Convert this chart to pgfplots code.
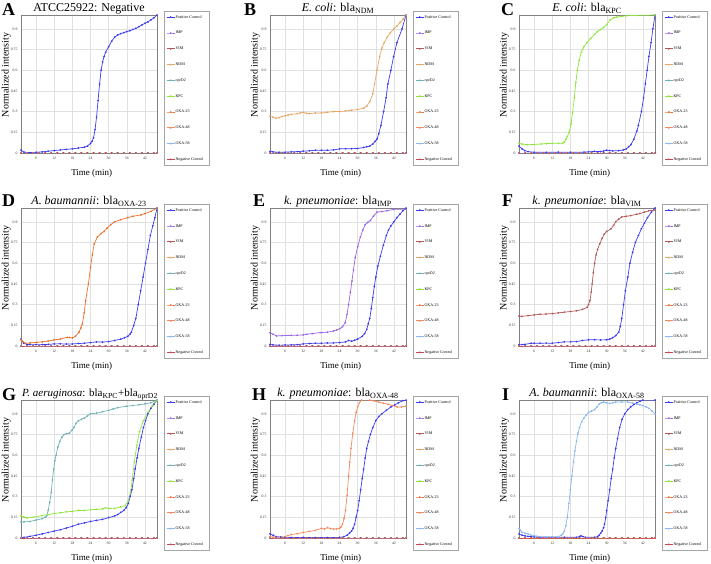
\documentclass[border=0pt]{standalone}
\usepackage{pgfplots}
\pgfplotsset{compat=1.18}
\usepackage{pgfplotstable}
\usepackage{fontspec}
\setmainfont{Liberation Serif}
\definecolor{cpos}{HTML}{3C3CF0}
\definecolor{cimp}{HTML}{9966E6}
\definecolor{cvim}{HTML}{B35959}
\definecolor{cndm}{HTML}{E6A866}
\definecolor{copr}{HTML}{6FB3B3}
\definecolor{ckpc}{HTML}{8FE53C}
\definecolor{coxa}{HTML}{E8722E}
\definecolor{coxb}{HTML}{F28A5E}
\definecolor{coxc}{HTML}{8CB8F0}
\definecolor{cneg}{HTML}{C04858}

\pgfplotstableread{
x y
1 0
3 0
5 0
7 0
9 0
11 0
13 0
15 0
17 0
19 0
21 0
23 0
25 0
27 0
29 0
31 0
33 0
35 0
37 0
39 0
41 0
43 0
45 0
46 0
}\flat

\newcommand\LE[1]{\makebox[31pt][l]{#1}}

\pgfplotsset{
 every axis plot/.append style={line width=0.7pt, mark=*, mark size=0.5pt},
 sPos/.style={color=cpos}, sImp/.style={color=cimp}, sVim/.style={color=cvim},
 sNdm/.style={color=cndm}, sOpr/.style={color=copr}, sKpc/.style={color=ckpc},
 sOxa/.style={color=coxa}, sOxb/.style={color=coxb}, sOxc/.style={color=coxc},
 sNeg/.style={color=cneg},
 pan/.style={
  width=136pt, height=138pt, scale only axis, anchor=north west,
  xmin=1, xmax=46, ymin=0, ymax=1,
  xtick={6,12,18,24,30,36,42},
  xticklabels={6,12,18,24,30,36,42},
  ytick={0,0.15,0.3,0.45,0.6,0.75,0.9},
  yticklabels={0,0.15,0.3,0.45,0.6,0.75,0.9},
  /pgf/number format/assume math mode=true,
  tick label style={font=\fontsize{3.8}{4}\selectfont, text=black!80},
  grid=major, major grid style={black!12, line width=0.3pt},
  axis line style={black!50, line width=0.6pt},
  major tick length=0pt,
  xlabel={Time (min)}, ylabel={Normalized intensity},
  every axis x label/.style={at={(axis description cs:0.52,-0.163)}, anchor=base, font=\fontsize{9}{10}\selectfont},
  every axis y label/.style={at={(axis description cs:-0.0735,0.565)}, rotate=90, anchor=south, inner sep=0pt, font=\fontsize{10}{11}\selectfont},
  every axis title/.style={at={(axis description cs:0.5,1.022)}, anchor=base, inner sep=0pt, font=\fontsize{12}{14}\selectfont},
  legend style={at={(axis description cs:1,1)}, anchor=north west, xshift=7pt, yshift=4pt,
    draw=black!35, line width=0.8pt, fill=white, font=\fontsize{4}{4.5}\selectfont,
    inner xsep=2pt, inner ysep=3.5pt, row sep=11.2pt,
    nodes={inner sep=0.5pt, text height=2.8pt, text depth=0.8pt}},
  legend cell align=left,
  legend image code/.code={\draw[mark repeat=2,mark phase=2,#1] plot coordinates {(0pt,0pt)(4pt,0pt)(8pt,0pt)};},
  legend entries={\LE{Positive Control},IMP,VIM,NDM,oprD2,KPC,OXA-23,OXA-48,OXA-58,Negative Control},
 }
}

\begin{document}
\begin{tikzpicture}
\useasboundingbox (0,0) rectangle (711pt,563pt);
\tikzset{lett/.style={anchor=base west, inner sep=0pt, font=\bfseries\fontsize{18}{18}\selectfont}}
\node[lett] at (2pt,547pt) {A};
\node[lett] at (244pt,547pt) {B};
\node[lett] at (501pt,547pt) {C};
\node[lett] at (2pt,356pt) {D};
\node[lett] at (253pt,356pt) {E};
\node[lett] at (502pt,356pt) {F};
\node[lett] at (2pt,163pt) {G};
\node[lett] at (252pt,163pt) {H};
\node[lett] at (502pt,163pt) {I};

% ---------- A
\begin{axis}[pan, at={(21pt,548pt)}, title={ATCC25922: Negative}]
\addplot[sPos] coordinates {(1,0.02)(2,0.006)(4,0.003)(6,0.005)(8,0.008)(10,0.013)(12,0.018)(14,0.022)(16,0.026)(18,0.03)(20,0.036)(22,0.042)(23,0.05)(24,0.07)(24.5,0.085)(25,0.11)(25.5,0.17)(26,0.26)(26.5,0.38)(27,0.5)(27.5,0.6)(28,0.66)(28.5,0.7)(29,0.73)(30,0.77)(31,0.81)(32,0.84)(33,0.855)(34,0.865)(35,0.872)(36,0.88)(37,0.886)(38,0.895)(39,0.903)(40,0.915)(41,0.928)(42,0.94)(43,0.95)(44,0.965)(45,0.98)(46,1.0)};
\addplot[sImp] table {\flat};
\addplot[sVim] table {\flat};
\addplot[sNdm] table {\flat};
\addplot[sOpr] table {\flat};
\addplot[sKpc] table {\flat};
\addplot[sOxa] table {\flat};
\addplot[sOxb] table {\flat};
\addplot[sOxc] table {\flat};
\addplot[sNeg] table {\flat};
\end{axis}

% ---------- B
\begin{axis}[pan, at={(270pt,548pt)}, title={\textit{E. coli}: bla\textsubscript{NDM}}]
\addplot[sPos] coordinates {(1,0.012)(2,0.008)(4,0.005)(6,0.006)(8,0.008)(10,0.01)(12,0.013)(14,0.016)(16,0.02)(18,0.02)(20,0.02)(22,0.022)(24,0.03)(26,0.031)(28,0.031)(30,0.033)(32,0.04)(33,0.045)(34,0.05)(35,0.065)(35.8,0.085)(36.4,0.1)(37,0.14)(37.7,0.2)(38.6,0.3)(39.4,0.4)(40,0.5)(41,0.6)(41.9,0.7)(43,0.8)(44.7,0.9)(46,1.0)};
\addplot[sImp] table {\flat};
\addplot[sVim] table {\flat};
\addplot[sNdm] coordinates {(1,0.265)(2,0.26)(3,0.252)(4,0.255)(5,0.265)(6,0.27)(7,0.275)(8,0.28)(10,0.285)(11,0.29)(12,0.295)(13,0.288)(14,0.285)(16,0.29)(18,0.29)(20,0.295)(22,0.3)(24,0.3)(26,0.305)(28,0.31)(30,0.315)(32,0.325)(33,0.34)(34,0.37)(35,0.43)(35.6,0.5)(36.4,0.6)(37.3,0.7)(38,0.76)(38.8,0.8)(39.8,0.84)(40.8,0.87)(42,0.9)(43,0.92)(44,0.945)(45,0.97)(46,1.0)};
\addplot[sOpr] table {\flat};
\addplot[sKpc] table {\flat};
\addplot[sOxa] table {\flat};
\addplot[sOxb] table {\flat};
\addplot[sOxc] table {\flat};
\addplot[sNeg] table {\flat};
\end{axis}

% ---------- C
\begin{axis}[pan, at={(519pt,548pt)}, title={\textit{E. coli}: bla\textsubscript{KPC}}]
\addplot[sPos] coordinates {(1,0.05)(2,0.03)(2.9,0.017)(4,0.01)(6,0.005)(10,0.005)(14,0.006)(18,0.005)(22.5,0.006)(24,0.008)(26,0.012)(28,0.01)(29,0.015)(30,0.02)(31,0.018)(32,0.015)(34,0.017)(35.5,0.022)(36.5,0.03)(37.3,0.045)(38,0.06)(39,0.1)(40,0.16)(40.5,0.2)(41.5,0.3)(42.2,0.4)(42.8,0.5)(43.4,0.6)(44,0.7)(44.7,0.8)(45.3,0.9)(46,1.0)};
\addplot[sImp] table {\flat};
\addplot[sVim] table {\flat};
\addplot[sNdm] table {\flat};
\addplot[sOpr] table {\flat};
\addplot[sKpc] coordinates {(1,0.07)(2,0.065)(3.9,0.06)(6,0.062)(8.3,0.065)(10,0.068)(12,0.07)(14,0.07)(15.4,0.07)(16,0.08)(16.5,0.1)(17,0.12)(17.6,0.15)(18.2,0.21)(18.7,0.29)(19.3,0.4)(19.8,0.51)(20.3,0.6)(20.9,0.67)(21.6,0.73)(22.5,0.77)(23.5,0.8)(24.7,0.83)(26,0.86)(26.9,0.88)(28,0.895)(29,0.91)(30,0.93)(31.2,0.965)(32.3,0.98)(33.4,0.985)(35,0.99)(36.7,0.995)(40,0.997)(46,1.0)};
\addplot[sOxa] table {\flat};
\addplot[sOxb] table {\flat};
\addplot[sOxc] table {\flat};
\addplot[sNeg] table {\flat};
\end{axis}

% ---------- D
\begin{axis}[pan, at={(21pt,355pt)}, title={\textit{A. baumannii}: bla\textsubscript{OXA-23}}]
\addplot[sPos] coordinates {(1,0.05)(1.9,0.02)(3,0.012)(4,0.01)(6,0.01)(8,0.01)(10,0.012)(12,0.015)(14,0.016)(16,0.014)(18,0.015)(20,0.018)(22,0.02)(24,0.025)(26,0.03)(28,0.028)(30,0.032)(32,0.04)(34,0.05)(35.3,0.06)(36.3,0.07)(37,0.085)(37.5,0.1)(38.3,0.15)(39,0.2)(39.8,0.3)(40.6,0.4)(41.4,0.5)(42.2,0.6)(43,0.7)(43.8,0.8)(44.6,0.87)(45.3,0.93)(46,1.0)};
\addplot[sImp] table {\flat};
\addplot[sVim] table {\flat};
\addplot[sNdm] table {\flat};
\addplot[sOpr] table {\flat};
\addplot[sKpc] table {\flat};
\addplot[sOxa] coordinates {(1,0.045)(1.7,0.03)(2.4,0.02)(4,0.022)(6.3,0.027)(8,0.03)(10,0.036)(11.9,0.044)(14,0.05)(16.3,0.063)(17,0.062)(18,0.058)(19,0.07)(20.2,0.1)(20.8,0.13)(21.3,0.16)(21.9,0.24)(22.4,0.33)(23.3,0.45)(24,0.57)(24.6,0.66)(25.2,0.74)(26.3,0.79)(27.5,0.815)(28.5,0.83)(29.5,0.855)(30.7,0.88)(32,0.9)(34,0.915)(36.3,0.93)(38,0.94)(40.7,0.95)(42,0.96)(44,0.975)(46,1.0)};
\addplot[sOxb] table {\flat};
\addplot[sOxc] table {\flat};
\addplot[sNeg] table {\flat};
\end{axis}

% ---------- E
\begin{axis}[pan, at={(270pt,355pt)}, title={\textit{k. pneumoniae}: bla\textsubscript{IMP}}]
\addplot[sPos] coordinates {(1,0.012)(2,0.008)(4,0.006)(6,0.007)(8,0.008)(10,0.01)(12,0.015)(14,0.018)(16,0.02)(18,0.02)(20,0.022)(22,0.022)(24,0.025)(26,0.03)(27,0.04)(28,0.035)(29,0.042)(30,0.05)(31.5,0.07)(32.3,0.09)(33,0.12)(33.5,0.16)(34,0.2)(34.5,0.27)(35,0.35)(35.5,0.43)(36,0.5)(36.7,0.58)(37.5,0.65)(38.5,0.73)(39.5,0.8)(40.2,0.84)(41,0.87)(42,0.9)(43,0.93)(44,0.955)(45,0.98)(46,1.0)};
\addplot[sImp] coordinates {(1,0.097)(2,0.085)(3.2,0.073)(5,0.075)(8,0.077)(10,0.078)(12,0.08)(13.2,0.085)(15,0.09)(17.6,0.097)(20,0.1)(22,0.109)(23,0.115)(24.2,0.126)(25,0.14)(25.9,0.17)(26.5,0.23)(27,0.3)(27.6,0.39)(28.1,0.47)(28.6,0.55)(29.2,0.64)(30,0.72)(30.9,0.79)(31.7,0.84)(32.5,0.88)(33.3,0.895)(34.2,0.91)(35.2,0.94)(36.4,0.97)(38,0.975)(39.7,0.98)(41.9,0.99)(46,0.99)};
\addplot[sVim] table {\flat};
\addplot[sNdm] table {\flat};
\addplot[sOpr] table {\flat};
\addplot[sKpc] table {\flat};
\addplot[sOxa] table {\flat};
\addplot[sOxb] table {\flat};
\addplot[sOxc] table {\flat};
\addplot[sNeg] table {\flat};
\end{axis}

% ---------- F
\begin{axis}[pan, at={(519pt,355pt)}, title={\textit{k. pneumoniae}: bla\textsubscript{VIM}}]
\addplot[sPos] coordinates {(1,0.01)(2,0.01)(3,0.012)(5,0.02)(6,0.02)(8,0.02)(10,0.021)(12,0.02)(14,0.025)(16,0.03)(18,0.03)(20,0.032)(22,0.04)(24,0.045)(26,0.045)(28,0.044)(30,0.045)(31,0.05)(32,0.06)(33,0.075)(34,0.1)(34.5,0.14)(35,0.2)(35.6,0.3)(36.2,0.4)(37,0.5)(37.7,0.6)(38.6,0.68)(39.5,0.75)(40.5,0.8)(41.5,0.85)(42.5,0.89)(43.5,0.93)(44.8,0.97)(46,1.0)};
\addplot[sImp] table {\flat};
\addplot[sVim] coordinates {(1,0.216)(2,0.215)(4,0.22)(6,0.225)(8,0.23)(10,0.232)(12,0.235)(14,0.24)(16,0.245)(18,0.25)(20,0.255)(22,0.265)(23.5,0.28)(24,0.3)(24.5,0.33)(24.9,0.39)(25.2,0.45)(25.6,0.53)(26,0.6)(26.5,0.66)(27,0.7)(27.7,0.74)(28.5,0.78)(29.2,0.81)(30,0.83)(31.5,0.85)(32.3,0.875)(33,0.9)(34,0.92)(35,0.935)(36.5,0.94)(38,0.945)(40,0.955)(41,0.96)(42.5,0.97)(44,0.98)(46,0.985)};
\addplot[sNdm] table {\flat};
\addplot[sOpr] table {\flat};
\addplot[sKpc] table {\flat};
\addplot[sOxa] table {\flat};
\addplot[sOxb] table {\flat};
\addplot[sOxc] table {\flat};
\addplot[sNeg] table {\flat};
\end{axis}

% ---------- G
\begin{axis}[pan, at={(21pt,163pt)}, title={\textit{P. aeruginosa}: bla\textsubscript{KPC}+bla\textsubscript{oprD2}}, every axis title/.append style={font=\fontsize{11}{13}\selectfont, xshift=1pt}]
\addplot[sPos] coordinates {(1,0.0)(2,0.005)(4,0.012)(6,0.02)(8,0.03)(10,0.04)(12,0.05)(14,0.06)(16,0.072)(18,0.085)(20,0.1)(22,0.11)(24,0.12)(26,0.128)(28,0.135)(30,0.148)(32,0.16)(33,0.17)(34,0.185)(35,0.2)(35.8,0.22)(36.5,0.25)(37.1,0.3)(37.7,0.35)(38.3,0.43)(38.8,0.5)(39.4,0.58)(40,0.65)(40.8,0.73)(41.5,0.8)(42.2,0.85)(43,0.9)(44,0.94)(45,0.97)(46,1.0)};
\addplot[sImp] table {\flat};
\addplot[sVim] table {\flat};
\addplot[sNdm] table {\flat};
\addplot[sOpr] coordinates {(1,0.115)(2,0.117)(4,0.12)(6,0.13)(8,0.14)(9,0.15)(9.5,0.16)(10,0.2)(10.5,0.26)(11,0.33)(11.4,0.42)(11.8,0.5)(12.2,0.56)(12.6,0.6)(13.2,0.66)(13.8,0.7)(14.5,0.73)(15.3,0.75)(16,0.755)(17,0.76)(17.8,0.78)(18.5,0.8)(19.2,0.83)(20,0.85)(21,0.86)(22,0.87)(23,0.885)(24,0.9)(26,0.905)(28,0.915)(30,0.925)(31.5,0.935)(33,0.945)(36,0.955)(38,0.96)(40,0.965)(42,0.972)(44,0.98)(46,1.0)};
\addplot[sKpc] coordinates {(1,0.16)(2,0.152)(3,0.145)(5,0.15)(8,0.163)(10,0.17)(12,0.178)(14,0.183)(16,0.19)(18,0.193)(20,0.2)(22,0.2)(24,0.205)(26,0.207)(28,0.21)(29,0.22)(30,0.214)(32,0.215)(34,0.225)(35.5,0.235)(36.5,0.27)(37.2,0.33)(37.8,0.42)(38.5,0.55)(39.3,0.67)(40.2,0.77)(41.5,0.85)(43,0.91)(44.5,0.96)(46,1.0)};
\addplot[sOxa] table {\flat};
\addplot[sOxb] table {\flat};
\addplot[sOxc] table {\flat};
\addplot[sNeg] table {\flat};
\end{axis}

% ---------- H
\begin{axis}[pan, at={(270pt,163pt)}, title={\textit{k. pneumoniae}: bla\textsubscript{OXA-48}}]
\addplot[sPos] coordinates {(1,0.03)(2,0.02)(3,0.01)(4.5,0.007)(6,0.005)(8,0.004)(12,0.004)(16,0.003)(20,0.003)(24,0.004)(25.5,0.01)(26.5,0.02)(27.3,0.035)(28,0.05)(28.5,0.07)(29,0.1)(29.5,0.15)(30,0.2)(30.5,0.27)(31,0.35)(31.5,0.43)(32,0.5)(32.5,0.58)(33,0.65)(33.6,0.7)(34.2,0.75)(35,0.8)(36,0.85)(37,0.88)(38,0.9)(39.5,0.925)(41,0.95)(42.3,0.965)(43.5,0.98)(45,0.995)(46,1.0)};
\addplot[sImp] table {\flat};
\addplot[sVim] table {\flat};
\addplot[sNdm] table {\flat};
\addplot[sOpr] table {\flat};
\addplot[sKpc] table {\flat};
\addplot[sOxa] table {\flat};
\addplot[sOxb] coordinates {(1,0.01)(2,0.007)(3,0.005)(5,0.005)(6,0.01)(7,0.018)(8,0.025)(10,0.032)(12,0.04)(14,0.048)(16,0.055)(18,0.07)(19,0.065)(20,0.075)(21,0.068)(22,0.065)(23,0.066)(24,0.07)(24.5,0.08)(25,0.1)(25.5,0.14)(26,0.2)(26.5,0.31)(27,0.45)(27.4,0.55)(27.8,0.65)(28.4,0.76)(29,0.85)(29.5,0.91)(30,0.95)(30.6,0.98)(31.3,1.0)(34,1.0)(35.5,0.993)(37,0.985)(38.5,0.977)(40,0.97)(41.5,0.96)(43,0.95)(44.5,0.95)(46,0.955)};
\addplot[sOxc] table {\flat};
\addplot[sNeg] table {\flat};
\end{axis}

% ---------- I
\begin{axis}[pan, at={(519pt,163pt)}, title={\textit{A. baumannii}: bla\textsubscript{OXA-58}}]
\addplot[sPos] coordinates {(1,0.03)(2,0.02)(3,0.015)(4,0.012)(5,0.01)(6,0.008)(8,0.005)(12,0.005)(16,0.005)(20,0.005)(21,0.01)(21.5,0.015)(22.2,0.01)(23,0.005)(26,0.005)(27,0.01)(27.5,0.02)(28,0.035)(28.5,0.05)(29,0.075)(29.3,0.1)(29.7,0.15)(30,0.2)(30.5,0.27)(31,0.35)(31.5,0.43)(32,0.5)(32.5,0.58)(33,0.65)(33.6,0.72)(34.3,0.8)(35.1,0.86)(36,0.9)(37,0.93)(38,0.95)(39,0.967)(40,0.98)(41,0.99)(42,1.0)(46,1.0)};
\addplot[sImp] table {\flat};
\addplot[sVim] table {\flat};
\addplot[sNdm] table {\flat};
\addplot[sOpr] table {\flat};
\addplot[sKpc] table {\flat};
\addplot[sOxa] table {\flat};
\addplot[sOxb] table {\flat};
\addplot[sOxc] coordinates {(1,0.07)(1.5,0.055)(2,0.04)(3,0.035)(4,0.03)(5,0.02)(6,0.018)(7,0.012)(8,0.01)(10,0.01)(12,0.008)(14,0.01)(15,0.02)(15.5,0.03)(16,0.05)(16.5,0.09)(17,0.15)(17.5,0.25)(18,0.35)(18.5,0.45)(19,0.55)(19.5,0.63)(20,0.7)(20.5,0.76)(21,0.8)(21.7,0.84)(22.5,0.87)(23.2,0.89)(24,0.91)(25,0.92)(26,0.93)(26.8,0.95)(27.5,0.97)(28.3,0.98)(29,0.985)(30,0.98)(31,0.975)(32,0.98)(33,0.985)(35,0.985)(37,0.985)(38.5,0.978)(40,0.97)(41,0.965)(42,0.96)(43,0.95)(44,0.94)(45,0.92)(46,0.9)};
\addplot[sNeg] table {\flat};
\end{axis}
\end{tikzpicture}
\end{document}
